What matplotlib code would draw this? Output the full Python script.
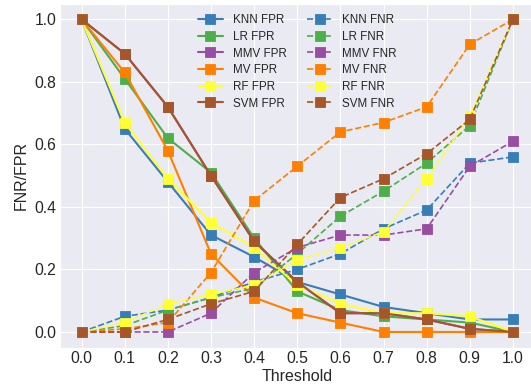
import matplotlib
matplotlib.use("Agg")
import matplotlib.pyplot as plt
import seaborn as sns

thresholds = [0.0, 0.1, 0.2, 0.3, 0.4, 0.5, 0.6, 0.7, 0.8, 0.9, 1.0]
models = ["KNN", "LR", "MMV", "MV", "RF", "SVM"]
colors = ["#377eb8", "#4daf4a", "#984ea3", "#ff7f00", "#ffff33", "#a65628"]

knn_fpr = [1.0, 0.65, 0.48, 0.31, 0.24, 0.16, 0.12, 0.08, 0.06, 0.04, 0.04]
lr_fpr = [1.0, 0.81, 0.62, 0.51, 0.30, 0.13, 0.07, 0.05, 0.04, 0.03, 0.0]
mmv_fpr = [1.0, 0.89, 0.72, 0.50, 0.29, 0.16, 0.06, 0.06, 0.04, 0.01, 0.0]
mv_fpr = [1.0, 0.83, 0.58, 0.25, 0.11, 0.06, 0.03, 0.0, 0.0, 0.0, 0.0]
rf_fpr = [1.0, 0.67, 0.49, 0.35, 0.27, 0.15, 0.09, 0.06, 0.06, 0.05, 0.0]
svm_fpr = [1.0, 0.89, 0.72, 0.50, 0.29, 0.16, 0.06, 0.06, 0.04, 0.01, 0.0]

knn_fnr = [0.0, 0.05, 0.07, 0.11, 0.16, 0.20, 0.25, 0.33, 0.39, 0.54, 0.56]
lr_fnr = [0.0, 0.02, 0.07, 0.11, 0.14, 0.25, 0.37, 0.45, 0.54, 0.66, 1.0]
mmv_fnr = [0.0, 0.0, 0.0, 0.06, 0.19, 0.27, 0.31, 0.31, 0.33, 0.53, 0.61]
mv_fnr = [0.0, 0.01, 0.03, 0.19, 0.42, 0.53, 0.64, 0.67, 0.72, 0.92, 1.0]
rf_fnr = [0.0, 0.03, 0.09, 0.12, 0.15, 0.23, 0.27, 0.32, 0.49, 0.69, 1.0]
svm_fnr = [0.0, 0.0, 0.04, 0.09, 0.13, 0.28, 0.43, 0.49, 0.57, 0.68, 1.0]

fpr = [knn_fpr, lr_fpr, mmv_fpr, mv_fpr, rf_fpr, svm_fpr]
fnr = [knn_fnr, lr_fnr, mmv_fnr, mv_fnr, rf_fnr, svm_fnr]

sns.set_style("darkgrid")
plt.rcParams['font.family'] = ['Liberation Sans', 'DejaVu Sans']

fig = plt.figure(figsize=(5.31, 3.92), dpi=100)
ax = fig.add_axes([60/531, 1 - 347.6/392, 474.5/531, 343.9/392])

for name, c, ys in zip(models, colors, fpr):
    ax.plot(thresholds, ys, '-', marker='s', color=c, lw=1.5, ms=6.5,
            mec=c, mew=0.6, label=f"{name} FPR")
for name, c, ys in zip(models, colors, fnr):
    ax.plot(thresholds, ys, '--', marker='s', color=c, lw=1.2, ms=6.5,
            mec=c, mew=0.6, label=f"{name} FNR")

ax.set_xticks(thresholds)
ax.set_xticklabels([f"{t:.1f}" for t in thresholds])
ax.set_yticks([0.0, 0.2, 0.4, 0.6, 0.8, 1.0])
ax.set_xlim(-0.05, 1.05)
ax.set_ylim(-0.05, 1.05)
ax.tick_params(axis='both', labelsize=11.3, colors='#262626', pad=2.5, length=0)
ax.set_xlabel("Threshold", fontsize=11.5, color='#262626', labelpad=2)
ax.set_ylabel("FNR/FPR", fontsize=11.5, color='#262626', labelpad=4)

ax.legend(ncol=2, loc='upper center', bbox_to_anchor=(0.5, 1.0), frameon=False,
          fontsize=8.4, columnspacing=1.7, handlelength=2.2, handletextpad=0.85,
          labelspacing=0.4)

fig.savefig("out.png", dpi=100)
